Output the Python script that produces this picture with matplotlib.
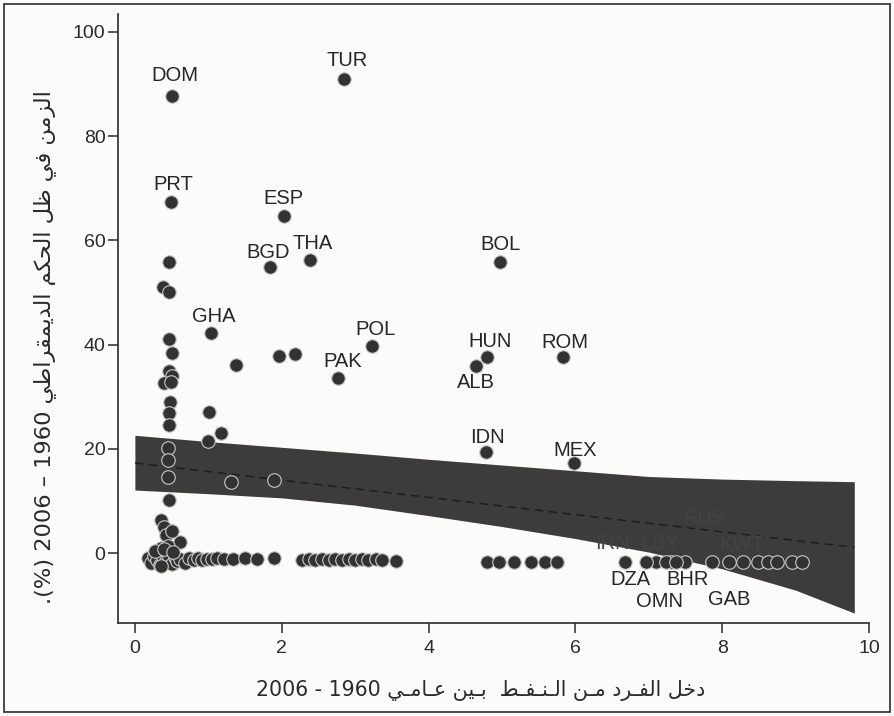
import matplotlib
matplotlib.use("Agg")
import matplotlib.pyplot as plt
from matplotlib.patches import Rectangle

# ---------------- data ----------------
# labelled countries
codes = ['DOM', 'TUR', 'PRT', 'ESP', 'BGD', 'THA', 'BOL', 'GHA', 'POL', 'PAK',
         'HUN', 'ALB', 'ROM', 'IDN', 'MEX', 'DZA', 'OMN', 'BHR', 'GAB',
         'IRN', 'LBY', 'RUS', 'KWT']
lab_x = [0.50, 2.85, 0.49, 2.03, 1.84, 2.38, 4.98, 1.03, 3.23, 2.77,
         4.80, 4.64, 5.83, 4.78, 5.98, 6.68, 7.10, 7.49, 8.10,
         6.96, 7.23, 7.37, 8.28]
lab_y = [87.7, 91.0, 67.4, 64.7, 54.9, 56.2, 55.9, 42.2, 39.7, 33.6,
         37.6, 35.9, 37.6, 19.4, 17.3, -1.7, -1.7, -1.7, -1.7,
         -1.7, -1.7, -1.7, -1.7]

# unlabelled countries
pts_x = [0.46, 0.38, 0.47, 0.46, 0.51, 0.46, 0.50, 0.40, 0.49, 0.48, 0.46, 0.46,
         0.45, 0.45, 0.45, 0.46, 1.00, 1.17, 1.31, 1.90, 1.38, 1.96, 2.18, 1.01,
         0.36, 0.39, 0.43, 0.61, 0.50, 0.35, 0.45,
         0.18, 0.22, 0.26, 0.30, 0.34, 0.38, 0.42, 0.46, 0.50, 0.54, 0.58, 0.62,
         0.68, 0.74, 0.80, 0.86, 0.92, 0.98, 1.05, 1.12, 1.21, 1.34, 1.50, 1.67,
         1.90, 0.28, 0.40, 0.52, 0.36,
         2.27, 2.37, 2.46, 2.55, 2.64, 2.73, 2.82, 2.91, 3.00, 3.09, 3.18, 3.28,
         3.37, 3.56,
         4.80, 4.96, 5.16, 5.39, 5.59, 5.75,
         8.49, 8.62, 8.75, 8.95, 9.09, 7.86, 7.30]
pts_y = [55.9, 51.1, 50.0, 41.0, 38.4, 35.0, 34.0, 32.6, 32.9, 29.0, 26.9, 24.6,
         20.1, 17.8, 14.6, 10.2, 21.5, 23.0, 13.7, 14.1, 36.0, 37.9, 38.1, 27.0,
         6.3, 5.0, 3.4, 2.2, 4.2, 1.0, 1.4,
         -1.0, -1.8, -0.6, -1.4, -2.2, -0.8, -1.6, -1.0, -2.0, -0.7, -1.5, -1.1,
         -1.8, -1.0, -1.4, -0.9, -1.3, -1.1, -1.2, -1.0, -1.2, -1.1, -1.0, -1.2,
         -1.0, 0.4, 0.8, 0.3, -2.4,
         -1.3, -1.2, -1.3, -1.2, -1.3, -1.2, -1.3, -1.2, -1.3, -1.2, -1.3, -1.2,
         -1.3, -1.6,
         -1.7, -1.7, -1.7, -1.7, -1.7, -1.7,
         -1.7, -1.7, -1.7, -1.7, -1.7, -1.7, -1.7]

# confidence band and fitted line
band_x = [0.0, 1.0, 2.0, 3.0, 4.0, 5.0, 6.0, 7.0, 8.0, 9.0, 9.8]
band_hi = [22.6, 21.4, 20.3, 19.2, 18.0, 16.9, 15.8, 14.7, 14.2, 13.9, 13.7]
band_lo = [12.1, 11.4, 10.6, 9.2, 7.2, 5.1, 2.8, 0.2, -3.0, -7.1, -11.5]
fit_x = [0.0, 9.8]
fit_y = [17.3, 1.1]

xticks = [0, 2, 4, 6, 8, 10]
yticks = [0, 20, 40, 60, 80, 100]

# label placement (pixel offsets of label centre from its point)
label_offsets = {
    'DOM': (3, 20), 'TUR': (3, 18), 'PRT': (2, 17), 'ESP': (0, 17),
    'BGD': (-2, 14), 'THA': (3, 17), 'BOL': (0, 17), 'GHA': (3, 17),
    'POL': (4, 17), 'PAK': (4, 16), 'HUN': (3, 16), 'ALB': (0, -17),
    'ROM': (2, 15), 'IDN': (2, 14), 'MEX': (1, 12), 'DZA': (5, -18),
    'OMN': (3, -40), 'BHR': (3, -18), 'GAB': (0, -38),
    'IRN': (-33, 18), 'LBY': (-5, 18), 'RUS': (29, 43), 'KWT': (-1, 17),
}
in_band = {'IRN', 'LBY', 'RUS', 'KWT'}

# ---------------- Arabic shaping (presentation forms, visual order) ----------------
FORMS = {
    'ـ': ('\u0640', '\u0640', '\u0640', '\u0640'),
    'ا': ('\uFE8D', '\uFE8E', None, None),
    'ب': ('\uFE8F', '\uFE90', '\uFE91', '\uFE92'),
    'ح': ('\uFEA1', '\uFEA2', '\uFEA3', '\uFEA4'),
    'خ': ('\uFEA5', '\uFEA6', '\uFEA7', '\uFEA8'),
    'د': ('\uFEA9', '\uFEAA', None, None),
    'ر': ('\uFEAD', '\uFEAE', None, None),
    'ز': ('\uFEAF', '\uFEB0', None, None),
    'ط': ('\uFEC1', '\uFEC2', '\uFEC3', '\uFEC4'),
    'ظ': ('\uFEC5', '\uFEC6', '\uFEC7', '\uFEC8'),
    'ع': ('\uFEC9', '\uFECA', '\uFECB', '\uFECC'),
    'ف': ('\uFED1', '\uFED2', '\uFED3', '\uFED4'),
    'ق': ('\uFED5', '\uFED6', '\uFED7', '\uFED8'),
    'ك': ('\uFED9', '\uFEDA', '\uFEDB', '\uFEDC'),
    'ل': ('\uFEDD', '\uFEDE', '\uFEDF', '\uFEE0'),
    'م': ('\uFEE1', '\uFEE2', '\uFEE3', '\uFEE4'),
    'ن': ('\uFEE5', '\uFEE6', '\uFEE7', '\uFEE8'),
    'ي': ('\uFEF1', '\uFEF2', '\uFEF3', '\uFEF4'),
}


def shape(text):
    out = []
    for i, c in enumerate(text):
        if c not in FORMS:
            out.append(c)
            continue
        iso, fin, ini, med = FORMS[c]
        prev = text[i - 1] if i > 0 else None
        nxt = text[i + 1] if i + 1 < len(text) else None
        jp = prev in FORMS and FORMS[prev][2] is not None
        jn = nxt in FORMS and ini is not None
        if jp and jn:
            out.append(med)
        elif jp:
            out.append(fin)
        elif jn:
            out.append(ini)
        else:
            out.append(iso)
    return ''.join(out)


xlabel_ar = 'دخل الفـرد مـن الـنـفـط  بـين عـامـي'
ylabel_ar = 'الزمن في ظل الحكم الديمقراطي'
xlabel_vis = '2006 - 1960 ' + shape(xlabel_ar)[::-1]
ylabel_vis = '.(%) 2006 – 1960 ' + shape(ylabel_ar)[::-1]

# ---------------- plot ----------------
plt.rcParams['font.family'] = ['Liberation Sans', 'DejaVu Sans']
DARK = '#333232'
BAND = '#3d3b3b'

fig = plt.figure(figsize=(8.94, 7.16), dpi=100, facecolor='#fbfbf9')
ax = fig.add_axes([0.132, 0.1299, 0.840, 0.8505])
ax.set_facecolor('#fbfbf9')

ax.fill_between(band_x, band_lo, band_hi, color=BAND, lw=0, zorder=1)
ax.plot(fit_x, fit_y, color='#1c1b1b', lw=1.0, dashes=(6, 4), zorder=2)

mk = dict(s=95, c=DARK, edgecolors='#c9c9c9', linewidths=0.8, zorder=3)
ax.scatter(pts_x, pts_y, **mk)
ax.scatter(lab_x, lab_y, **mk)

for code, x, y in zip(codes, lab_x, lab_y):
    dx, dy = label_offsets[code]
    col = '#444242' if code in in_band else '#262626'
    ax.annotate(code, (x, y), xytext=(dx, dy), textcoords='offset pixels',
                ha='center', va='center', fontsize=14.5, color=col, zorder=4)

ax.set_xlim(-0.23, 10)
ax.set_ylim(-13.4, 103.4)
ax.set_xticks(xticks)
ax.set_yticks(yticks)
ax.tick_params(axis='both', labelsize=14, colors='#2a2a2a', width=1.1,
               length=7, direction='out')
ax.tick_params(axis='y', pad=2)
ax.tick_params(axis='x', pad=5)
for side in ['top', 'right']:
    ax.spines[side].set_visible(False)
for side in ['left', 'bottom']:
    ax.spines[side].set_color('#2a2a2a')
    ax.spines[side].set_linewidth(1.2)

fig.text(0.538, 0.036, xlabel_vis, ha='center', va='center', fontsize=14.8,
         family=['DejaVu Sans'], color='#2a2a2a')
fig.text(0.050, 0.515, ylabel_vis, ha='center', va='center', fontsize=16.2,
         rotation=90, family=['DejaVu Sans'], color='#2a2a2a')

fig.patches.append(Rectangle((0.004, 0.005), 0.992, 0.99, transform=fig.transFigure,
                             fill=False, edgecolor='#2a2a2a', lw=1.2))

fig.savefig('out.png', dpi=100, facecolor=fig.get_facecolor())
